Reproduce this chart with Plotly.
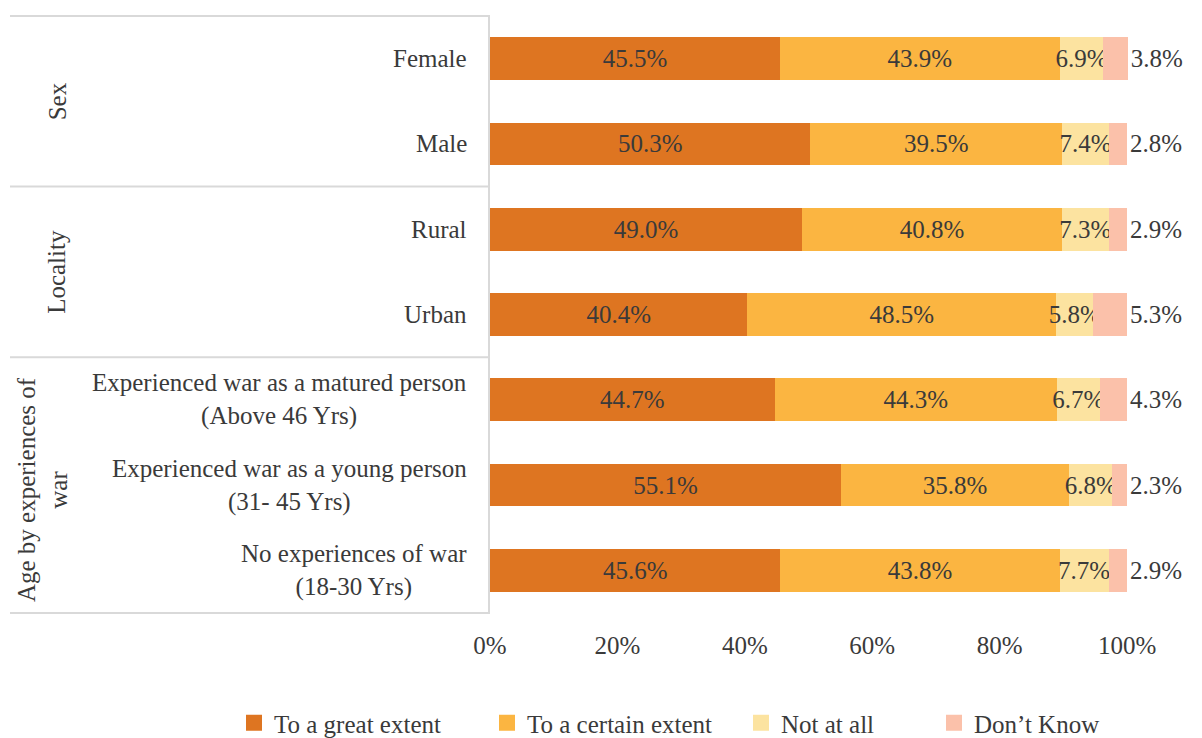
import plotly.graph_objects as go

# Survey categories (top to bottom) and their group headers
categories = [
    "Female",
    "Male",
    "Rural",
    "Urban",
    "Experienced war as a matured person<br>(Above 46 Yrs)",
    "Experienced war as a young person<br>(31- 45 Yrs)",
    "No experiences of war<br>(18-30 Yrs)",
]
groups = ["Sex", "Locality", "Age by experiences of<br>war"]
group_members = [[0, 1], [2, 3], [4, 5, 6]]

# Response shares (%) for each category
great_extent = [45.5, 50.3, 49.0, 40.4, 44.7, 55.1, 45.6]
certain_extent = [43.9, 39.5, 40.8, 48.5, 44.3, 35.8, 43.8]
not_at_all = [6.9, 7.4, 7.3, 5.8, 6.7, 6.8, 7.7]
dont_know = [3.8, 2.8, 2.9, 5.3, 4.3, 2.3, 2.9]

series = [
    ("To a great extent", great_extent, "#DE7521", "inside", 208),
    ("To a certain extent", certain_extent, "#FBB541", "inside", 209),
    ("Not at all", not_at_all, "#FCE3A0", "inside", 148),
    ("Don\u2019t Know", dont_know, "#FBC1AA", "outside", None),
]

x_ticks = [0, 20, 40, 60, 80, 100]
x_tick_text = ["0%", "20%", "40%", "60%", "80%", "100%"]

FONT = "Liberation Serif, Times New Roman, serif"
TXT = "#3a3a3a"
LINE = "#D9D9D9"
FS = 25

# Plot area in pixels: x 490..1128, y 15..614
PL, PR, PT, PB = 490, 1128, 15, 614
PW, PH = PR - PL, PB - PT

keys = [f"c{i}" for i in range(len(categories))]

fig = go.Figure()
for name, vals, color, pos, _ in series:
    fig.add_trace(go.Bar(
        y=keys, x=vals, name=name, orientation="h", showlegend=False,
        marker=dict(color=color, line=dict(width=0)),
        text=vals, texttemplate="%{x:.1f}%", textposition=pos,
        insidetextanchor="middle", textangle=0, constraintext="none",
        textfont=dict(family=FONT, size=FS, color=TXT),
        outsidetextfont=dict(family=FONT, size=FS, color=TXT),
        cliponaxis=False, hoverinfo="skip",
    ))

# Legend entries with larger square swatches
for name, _, color, _, lw in series:
    fig.add_trace(go.Scatter(
        x=[None], y=[None], mode="markers", name=name,
        marker=dict(symbol="square", size=16, color=color),
        legendwidth=lw, hoverinfo="skip",
    ))

# Category labels to the left of the axis
for k, label in zip(keys, categories):
    fig.add_annotation(
        x=0, xref="paper", y=k, yref="y", text=label, showarrow=False,
        xanchor="right", yanchor="middle", xshift=-21, align="center",
        font=dict(family=FONT, size=FS, color=TXT),
    )

# Group headers (rotated) and separator lines
n = len(categories)
x_left = (10 - PL) / PW
bounds = [-0.5]
for g, members in zip(groups, group_members):
    lo, hi = members[0] - 0.5, members[-1] + 0.5
    bounds.append(hi)
    fig.add_annotation(
        x=(57 - PL) / PW if "<br>" not in g else (43 - PL) / PW,
        xref="paper", y=(lo + hi) / 2, yref="y", text=g, showarrow=False,
        textangle=-90, xanchor="center", yanchor="middle", align="center",
        yshift=-4 if "<br>" in g else 0,
        font=dict(family=FONT, size=FS, color=TXT),
    )
for b in bounds:
    fig.add_shape(type="line", xref="paper", yref="y", x0=x_left, x1=0,
                  y0=b, y1=b, line=dict(color=LINE, width=2))

fig.update_layout(
    width=1202, height=738,
    margin=dict(l=PL, r=1202 - PR, t=PT, b=738 - PB, autoexpand=False),
    barmode="stack", bargap=0.5,
    plot_bgcolor="white", paper_bgcolor="white",
    font=dict(family=FONT, size=FS, color=TXT),
    xaxis=dict(
        range=[0, 100.15], tickvals=x_ticks, ticktext=x_tick_text,
        showgrid=False, zeroline=False, showline=False,
        ticks="", ticklabelstandoff=14,
        tickfont=dict(family=FONT, size=FS, color=TXT),
    ),
    yaxis=dict(
        categoryorder="array", categoryarray=keys, autorange="reversed",
        range=[n - 0.5, -0.5], showticklabels=False, showgrid=False,
        zeroline=False, showline=True, linecolor=LINE, linewidth=2, ticks="",
    ),
    legend=dict(
        orientation="h", x=(234 - PL) / PW, xanchor="left",
        y=-(723 - PB) / PH, yanchor="middle",
        traceorder="normal",
        font=dict(family=FONT, size=FS, color=TXT),
    ),
)

fig.write_html("out.html")
